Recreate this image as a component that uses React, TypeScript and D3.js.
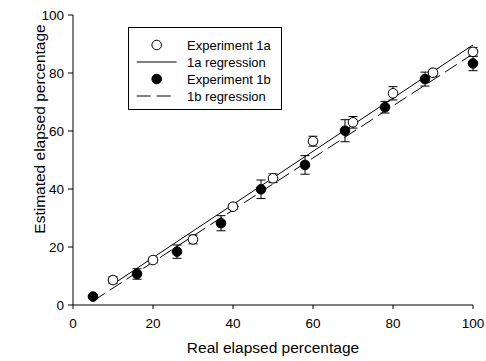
import React from "react";
import * as d3 from "d3";

// Experiment 1a (open circles)
const realA = [10, 20, 30, 40, 50, 60, 70, 80, 90, 100];
const estA = [8.6, 15.5, 22.6, 33.9, 43.7, 56.5, 63.0, 73.0, 80.1, 87.3];
const errA = [1.2, 1.0, 1.5, 1.0, 1.5, 1.7, 2.0, 2.3, 1.2, 1.5];

// Experiment 1b (filled circles)
const realB = [5, 16, 26, 37, 47, 58, 68, 78, 88, 100];
const estB = [2.9, 10.7, 18.4, 28.2, 39.9, 48.3, 60.1, 68.2, 77.9, 83.3];
const errB = [0.5, 1.8, 2.3, 2.6, 3.2, 3.2, 3.8, 2.0, 2.4, 2.5];

const ticks = [0, 20, 40, 60, 80, 100];

const legendItems = [
  { label: "Experiment 1a", kind: "open" },
  { label: "1a regression", kind: "solid" },
  { label: "Experiment 1b", kind: "filled" },
  { label: "1b regression", kind: "dashed" },
];

// least squares fit
function fit(xs: number[], ys: number[]) {
  const mx = d3.mean(xs) as number;
  const my = d3.mean(ys) as number;
  let sxy = 0;
  let sxx = 0;
  xs.forEach((x, i) => {
    sxy += (x - mx) * (ys[i] - my);
    sxx += (x - mx) * (x - mx);
  });
  const slope = sxy / sxx;
  return { slope, intercept: my - slope * mx };
}

const App = () => {
  const width = 486;
  const height = 361;
  const x = d3.scaleLinear().domain([0, 100]).range([73, 473]);
  const y = d3.scaleLinear().domain([0, 100]).range([305, 15]);
  const font = "'Liberation Sans', Arial, sans-serif";

  const regA = fit(realA, estA);
  const regB = fit(realB, estB);
  const line = d3
    .line<number>()
    .x((d) => x(d))
    .y((d) => y(d));
  const lineA = d3
    .line<number>()
    .x((d) => x(d))
    .y((d) => y(regA.slope * d + regA.intercept));
  const lineB = d3
    .line<number>()
    .x((d) => x(d))
    .y((d) => y(regB.slope * d + regB.intercept));

  const cap = 4.5;
  const r = 4.8;

  const errorBars = (xs: number[], ys: number[], es: number[], key: string) =>
    xs.map((xv, i) => {
      const cx = x(xv);
      const top = y(ys[i] + es[i]);
      const bot = y(ys[i] - es[i]);
      return (
        <g key={key + i} stroke="#000" strokeWidth={1}>
          <line x1={cx} x2={cx} y1={top} y2={bot} />
          <line x1={cx - cap} x2={cx + cap} y1={top} y2={top} />
          <line x1={cx - cap} x2={cx + cap} y1={bot} y2={bot} />
        </g>
      );
    });

  const lg = { x: 128.5, y: 27.5, w: 153, h: 82, row: 17 };

  return (
    <svg
      width={width}
      height={height}
      style={{ position: "absolute", left: 0, top: 0, background: "#fff" }}
    >
      <rect width={width} height={height} fill="#fff" />
      {/* axes */}
      <g stroke="#000" strokeWidth={1} fill="none">
        <line x1={x(0)} x2={x(0)} y1={y(0)} y2={y(100)} />
        <line x1={x(0)} x2={x(100)} y1={y(0)} y2={y(0)} />
        {ticks.map((t) => (
          <line key={"yt" + t} x1={x(0) - 5} x2={x(0)} y1={y(t)} y2={y(t)} />
        ))}
        {ticks.map((t) => (
          <line key={"xt" + t} x1={x(t)} x2={x(t)} y1={y(0)} y2={y(0) + 4} />
        ))}
      </g>
      <g fontFamily={font} fontSize={13.5} fill="#000">
        {ticks.map((t) => (
          <text key={"yl" + t} x={x(0) - 9} y={y(t)} dy="0.35em" textAnchor="end">
            {t}
          </text>
        ))}
        {ticks.map((t) => (
          <text key={"xl" + t} x={x(t)} y={328} textAnchor="middle">
            {t}
          </text>
        ))}
      </g>
      <text
        x={273}
        y={353}
        textAnchor="middle"
        fontFamily={font}
        fontSize={15.5}
        fill="#000"
      >
        Real elapsed percentage
      </text>
      <text
        transform={`translate(45,129) rotate(-90)`}
        textAnchor="middle"
        fontFamily={font}
        fontSize={15.5}
        fill="#000"
      >
        Estimated elapsed percentage
      </text>

      {/* regression lines */}
      <path d={lineA([realA[0], realA[realA.length - 1]]) || ""} stroke="#000" fill="none" strokeWidth={1} />
      <path
        d={lineB([realB[0], realB[realB.length - 1]]) || ""}
        stroke="#000"
        fill="none"
        strokeWidth={1}
        strokeDasharray="14,6"
      />

      {/* error bars */}
      {errorBars(realA, estA, errA, "ea")}
      {errorBars(realB, estB, errB, "eb")}

      {/* points */}
      {realA.map((xv, i) => (
        <circle key={"pa" + i} cx={x(xv)} cy={y(estA[i])} r={r} fill="#fff" stroke="#000" strokeWidth={1} />
      ))}
      {realB.map((xv, i) => (
        <circle key={"pb" + i} cx={x(xv)} cy={y(estB[i])} r={r} fill="#000" stroke="#000" strokeWidth={1} />
      ))}

      {/* legend */}
      <rect x={lg.x} y={lg.y} width={lg.w} height={lg.h} fill="#fff" stroke="#000" strokeWidth={1} />
      {legendItems.map((it, i) => {
        const cy = 45 + i * lg.row;
        return (
          <g key={"lg" + i}>
            {it.kind === "open" && <circle cx={156.7} cy={cy} r={r} fill="#fff" stroke="#000" />}
            {it.kind === "filled" && <circle cx={156.7} cy={cy} r={r} fill="#000" stroke="#000" />}
            {it.kind === "solid" && <path d={line([0, 0]) ? `M136.7,${cy}H176.7` : ""} stroke="#000" />}
            {it.kind === "dashed" && (
              <path d={`M136.7,${cy}H176.7`} stroke="#000" strokeDasharray="14,6" />
            )}
            <text x={187} y={cy} dy="0.36em" fontFamily={font} fontSize={13} fill="#000">
              {it.label}
            </text>
          </g>
        );
      })}
    </svg>
  );
};

export default App;
